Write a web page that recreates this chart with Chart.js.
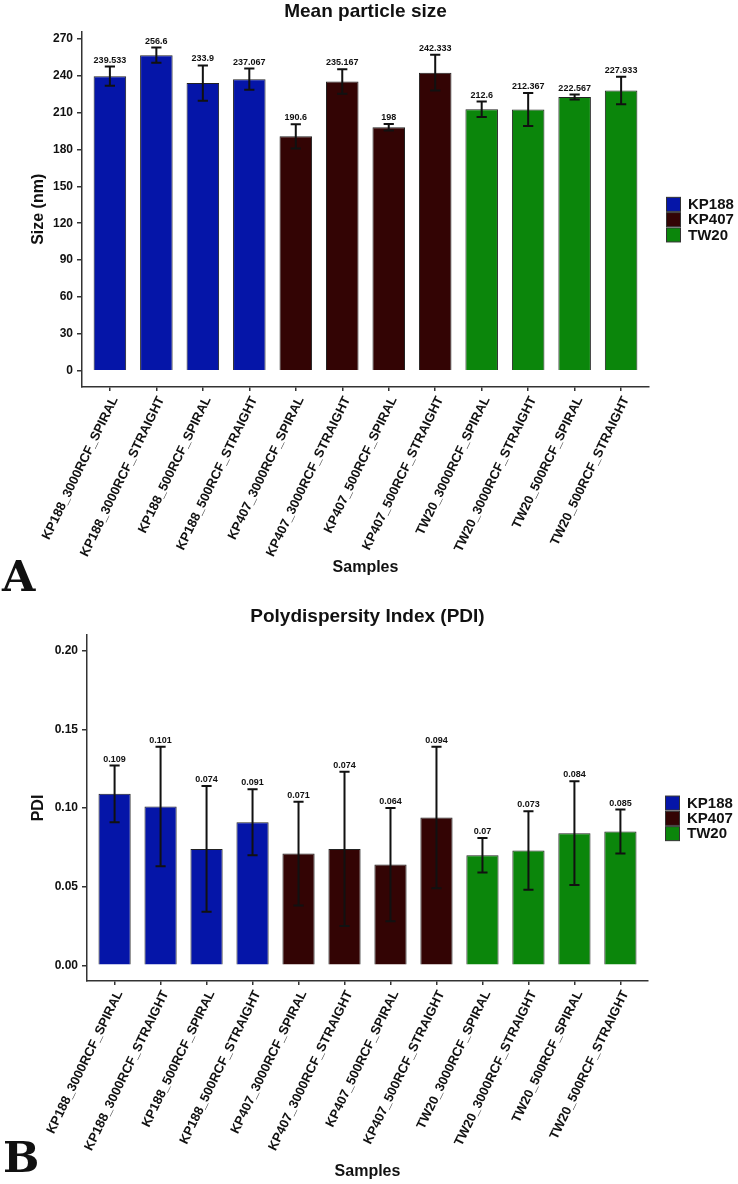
<!DOCTYPE html>
<html>
<head>
<meta charset="utf-8">
<script src="https://cdn.jsdelivr.net/npm/chart.js@4.4.0/dist/chart.umd.min.js"></script>
<style>
html,body{margin:0;padding:0;background:#fff;}
#wrap{position:relative;width:738px;height:1184px;overflow:hidden;background:#fff;}
canvas{position:absolute;left:0;}
#cA{top:0;}
#cB{top:592px;}
.plab{position:absolute;font-family:"DejaVu Serif","Liberation Serif",serif;font-weight:bold;font-size:43px;line-height:43px;color:#111;}
</style>
</head>
<body>
<div id="wrap">
<canvas id="cA" width="738" height="592"></canvas>
<canvas id="cB" width="738" height="592"></canvas>
<div class="plab" style="left:2px;top:555px;">A</div>
<div class="plab" style="left:3px;top:1136px;">B</div>
</div>
<script>
// ---------------- data ----------------
const categories = [
  "KP188_3000RCF_SPIRAL", "KP188_3000RCF_STRAIGHT", "KP188_500RCF_SPIRAL", "KP188_500RCF_STRAIGHT",
  "KP407_3000RCF_SPIRAL", "KP407_3000RCF_STRAIGHT", "KP407_500RCF_SPIRAL", "KP407_500RCF_STRAIGHT",
  "TW20_3000RCF_SPIRAL", "TW20_3000RCF_STRAIGHT", "TW20_500RCF_SPIRAL", "TW20_500RCF_STRAIGHT"
];
const groups = ["KP188","KP188","KP188","KP188","KP407","KP407","KP407","KP407","TW20","TW20","TW20","TW20"];
const groupNames = ["KP188", "KP407", "TW20"];
const groupColors = ["#0515A8", "#330404", "#0B860B"];

const sizeMean = [239.533, 256.6, 233.9, 237.067, 190.6, 235.167, 198, 242.333, 212.6, 212.367, 222.567, 227.933];
const sizeSD   = [7.8, 6.2, 14.3, 8.6, 9.8, 10.0, 2.7, 14.5, 6.3, 13.4, 2.0, 11.2];
const sizeTicks = [0, 30, 60, 90, 120, 150, 180, 210, 240, 270];

const pdiMean = [0.109, 0.101, 0.074, 0.091, 0.071, 0.074, 0.064, 0.094, 0.07, 0.073, 0.084, 0.085];
const pdiSD   = [0.018, 0.038, 0.040, 0.021, 0.033, 0.049, 0.036, 0.045, 0.011, 0.025, 0.033, 0.014];
const pdiTicks = [0, 0.05, 0.10, 0.15, 0.20];

// ---------------- helpers ----------------
const FONT = "'Liberation Sans', Arial, Helvetica, sans-serif";
Chart.defaults.font.family = FONT;
Chart.defaults.color = '#111';

const errorBars = {
  id: 'errorBars',
  afterDatasetsDraw(chart, args, opts) {
    const {ctx, scales: {x, y}} = chart;
    ctx.save();
    ctx.strokeStyle = '#111';
    ctx.lineWidth = 2;
    ctx.fillStyle = '#111';
    ctx.font = "bold 9px " + FONT;
    ctx.textAlign = 'center';
    ctx.textBaseline = 'alphabetic';
    opts.means.forEach((m, i) => {
      const px = x.getPixelForValue(i);
      const hw = x.getPixelForValue(i + 0.11) - px;
      const yt = y.getPixelForValue(m + opts.sds[i]);
      const yb = y.getPixelForValue(m - opts.sds[i]);
      ctx.beginPath();
      ctx.moveTo(px, yt); ctx.lineTo(px, yb);
      ctx.moveTo(px - hw, yt); ctx.lineTo(px + hw, yt);
      ctx.moveTo(px - hw, yb); ctx.lineTo(px + hw, yb);
      ctx.stroke();
      ctx.fillText(String(m), px, yt - 4);
    });
    ctx.restore();
  }
};

const sideLegend = {
  id: 'sideLegend',
  afterDraw(chart, args, opts) {
    const {ctx, chartArea} = chart;
    const k = 15.3;
    const x0 = chartArea.right + 17;
    const yc = (chartArea.top + chartArea.bottom) / 2 + opts.shift;
    const y0 = yc - k * groupNames.length / 2;
    ctx.save();
    groupNames.forEach((g, i) => {
      const yy = y0 + i * k;
      ctx.fillStyle = groupColors[i];
      ctx.fillRect(x0 + 0.5, yy + 0.5, 14, k - 1.3);
      ctx.strokeStyle = '#333';
      ctx.lineWidth = 1;
      ctx.strokeRect(x0 + 0.5, yy + 0.5, 14, k - 1.3);
      ctx.fillStyle = '#111';
      ctx.font = "bold 15px " + FONT;
      ctx.textAlign = 'left';
      ctx.textBaseline = 'middle';
      ctx.fillText(g, x0 + 22, yy + k / 2 + 0.5);
    });
    ctx.restore();
  }
};

function makeChart(id, cfg) {
  const colors = groups.map(g => groupColors[groupNames.indexOf(g)]);
  return new Chart(document.getElementById(id), {
    type: 'bar',
    data: {
      datasets: [{
        data: cfg.means.map((v, i) => ({x: i, y: v})),
        backgroundColor: colors,
        borderColor: '#222',
        borderWidth: 1,
        barPercentage: 0.7,
        categoryPercentage: 1.0
      }]
    },
    options: {
      responsive: false,
      animation: false,
      events: [],
      layout: {padding: {left: 25, right: cfg.padRight, top: 0, bottom: 0}},
      plugins: {
        legend: {display: false},
        tooltip: {enabled: false},
        title: {
          display: true, text: cfg.title, fullSize: false, color: '#111',
          font: {size: 19, weight: 'bold', family: FONT, lineHeight: 1.2},
          padding: cfg.titlePad
        },
        errorBars: {means: cfg.means, sds: cfg.sds},
        sideLegend: {shift: 10.5}
      },
      scales: {
        x: {
          type: 'linear', min: -0.6, max: 11.6, offset: false,
          afterBuildTicks: s => { s.ticks = categories.map((c, i) => ({value: i})); },
          afterFit: s => { s.height = cfg.xHeight; },
          ticks: {
            autoSkip: false, minRotation: 64, maxRotation: 64, padding: 3, labelOffset: 5,
            color: '#111', font: {size: 13, weight: 'bold', family: FONT},
            callback: v => categories[v]
          },
          grid: {offset: false, drawOnChartArea: false, drawTicks: true, tickLength: 4, color: '#333', lineWidth: 1.5},
          border: {display: true, color: '#333', width: 1.5},
          title: {
            display: true, text: 'Samples', color: '#111',
            font: {size: 16, weight: 'bold', family: FONT},
            padding: {top: 4, bottom: cfg.xTitlePadBottom}
          }
        },
        y: {
          min: cfg.yMin, max: cfg.yMax,
          afterBuildTicks: s => { s.ticks = cfg.ticks.map(v => ({value: v})); },
          afterFit: s => { s.width = cfg.yWidth; },
          ticks: {
            padding: 4, color: '#111', font: {size: 12, weight: 'bold', family: FONT},
            callback: v => cfg.fmt(v)
          },
          grid: {drawOnChartArea: false, drawTicks: true, tickLength: 5, color: '#333', lineWidth: 1.5},
          border: {display: true, color: '#333', width: 1.5},
          title: {
            display: true, text: cfg.yTitle, color: '#111',
            font: {size: 16, weight: 'bold', family: FONT},
            padding: {top: 4, bottom: 0}
          }
        }
      }
    },
    plugins: [errorBars, sideLegend]
  });
}

makeChart('cA', {
  title: 'Mean particle size', yTitle: 'Size (nm)',
  means: sizeMean, sds: sizeSD, ticks: sizeTicks,
  yMin: -13.13, yMax: 275.73, fmt: v => String(v),
  padRight: 89, titlePad: {top: 0, bottom: 8.8}, xHeight: 205, xTitlePadBottom: 15, yWidth: 57
});

makeChart('cB', {
  title: 'Polydispersity Index (PDI)', yTitle: 'PDI',
  means: pdiMean, sds: pdiSD, ticks: pdiTicks,
  yMin: -0.01, yMax: 0.21, fmt: v => v.toFixed(2),
  padRight: 90, titlePad: {top: 13.4, bottom: 6.8}, xHeight: 203, xTitlePadBottom: 2.4, yWidth: 62
});
</script>
</body>
</html>
